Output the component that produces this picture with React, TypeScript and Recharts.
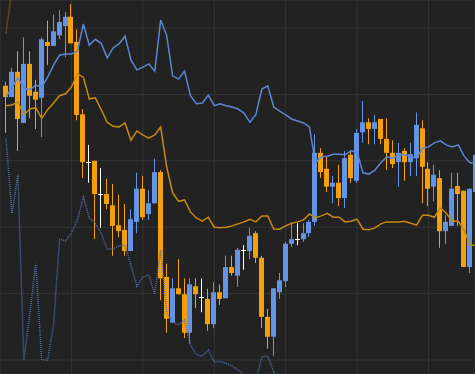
import React from "react";
import { ComposedChart, Bar, Line, XAxis, YAxis, CartesianGrid } from "recharts";

// OHLC per bar
const opens = [
  141.3, 139.6, 143.4, 135.7, 144.6, 140.4, 139.5, 147.9, 147.3, 148.9,
  150.3, 151.7, 147.9, 137.0, 129.8, 130.0, 125.0, 125.0, 123.3, 120.3,
  119.6, 116.4, 120.8, 125.8, 122.0, 123.6, 128.3, 112.5, 105.6, 110.8,
  109.9, 104.1, 111.1, 109.5, 109.2, 105.4, 110.2, 109.3, 114.0, 112.7,
  116.6, 116.4, 119.1, 115.4, 106.5, 103.5, 110.2, 111.9, 117.5, 118.2,
  118.2, 119.1, 120.8, 131.2, 128.8, 126.1, 126.7, 124.4, 130.9, 127.0,
  134.3, 135.8, 134.8, 136.3, 133.3, 131.2, 129.8, 131.5, 129.8, 130.4,
  134.9, 128.8, 126.1, 127.4, 119.4, 120.2, 126.2, 125.5, 114.0, 125.3,
];
const highs = [
  141.9, 144.0, 146.5, 148.6, 146.5, 142.2, 148.6, 151.1, 152.0, 152.7,
  152.4, 153.6, 149.8, 137.8, 132.4, 130.0, 128.9, 127.3, 126.5, 124.9,
  123.5, 122.7, 128.2, 127.7, 125.6, 130.3, 128.6, 114.5, 112.3, 115.2,
  112.3, 112.3, 112.3, 112.3, 110.7, 111.7, 111.4, 115.7, 115.7, 116.9,
  117.3, 119.9, 119.4, 115.7, 107.7, 110.8, 113.1, 117.8, 120.5, 120.6,
  120.6, 121.1, 134.0, 131.9, 130.6, 127.7, 129.4, 131.5, 131.5, 134.8,
  139.0, 136.4, 136.9, 136.3, 136.4, 133.1, 132.7, 131.9, 132.7, 137.3,
  136.1, 129.8, 129.4, 128.6, 121.8, 128.2, 128.2, 125.5, 125.8, 131.6,
];
const lows = [
  134.2, 139.6, 131.5, 135.7, 136.4, 134.8, 133.6, 144.4, 147.3, 148.3,
  145.6, 147.7, 136.1, 127.4, 126.7, 118.2, 119.9, 122.7, 115.7, 118.5,
  115.7, 116.4, 119.1, 121.1, 121.1, 123.6, 109.0, 104.1, 105.6, 109.9,
  103.3, 102.4, 107.8, 107.2, 104.4, 104.8, 108.3, 109.3, 112.7, 111.0,
  113.6, 115.2, 114.6, 104.8, 101.7, 100.6, 109.2, 111.0, 117.0, 117.3,
  117.8, 118.5, 120.2, 127.4, 125.3, 123.6, 123.2, 122.9, 126.7, 126.7,
  132.7, 132.5, 132.5, 132.5, 128.6, 128.9, 126.1, 127.0, 127.7, 127.7,
  123.6, 123.2, 123.9, 116.9, 117.5, 120.2, 120.2, 114.0, 113.1, 125.3,
];
const closes = [
  139.6, 143.4, 136.3, 144.6, 139.8, 139.2, 148.3, 147.3, 149.5, 150.9,
  151.7, 147.7, 136.9, 129.8, 129.8, 125.0, 125.0, 123.5, 120.2, 119.4,
  116.4, 121.2, 125.8, 121.5, 123.6, 128.3, 112.3, 106.2, 110.8, 109.9,
  104.1, 111.4, 109.9, 109.5, 105.4, 110.2, 109.2, 114.0, 113.1, 116.6,
  116.6, 118.7, 115.4, 106.5, 103.5, 110.8, 112.0, 117.5, 118.2, 118.2,
  119.1, 120.8, 131.2, 128.3, 126.1, 126.7, 124.4, 130.4, 127.4, 134.2,
  135.8, 134.8, 135.8, 133.3, 131.2, 129.5, 131.2, 129.8, 131.0, 135.4,
  129.1, 125.8, 127.9, 119.4, 120.8, 125.8, 125.0, 114.0, 125.8, 130.9,
];

// indicator lines
const blueLine = [
  139.6, 141.1, 142.5, 141.0, 140.7, 141.4, 141.1, 142.6, 144.4, 145.9,
  146.1, 146.1, 146.5, 150.6, 147.4, 148.3, 147.7, 145.5, 147.0, 147.6,
  148.8, 145.2, 143.7, 144.1, 144.6, 143.5, 151.2, 148.9, 142.8, 142.3,
  143.5, 139.8, 138.6, 138.7, 139.9, 138.3, 138.6, 138.3, 138.1, 137.8,
  137.2, 135.8, 137.0, 140.8, 141.3, 138.1, 137.5, 136.9, 136.3, 136.0,
  135.7, 135.1, 129.7, 130.6, 130.7, 131.0, 131.0, 130.9, 131.5, 131.3,
  128.2, 128.0, 128.6, 129.7, 130.6, 130.4, 130.9, 130.9, 130.7, 130.4,
  131.9, 132.1, 132.7, 133.0, 132.4, 132.1, 132.4, 130.7, 129.7, 129.7,
];
const orangeLine = [
  138.3, 138.4, 138.9, 136.9, 137.8, 138.0, 136.4, 137.7, 138.7, 139.8,
  140.1, 141.1, 143.1, 142.6, 139.3, 139.5, 137.7, 135.8, 135.2, 135.1,
  135.7, 133.1, 134.5, 133.9, 133.4, 133.9, 135.1, 129.1, 125.2, 123.9,
  124.1, 122.3, 121.4, 120.9, 121.5, 120.0, 119.9, 120.0, 120.2, 120.5,
  120.8, 121.2, 120.8, 121.7, 121.7, 119.7, 119.7, 120.2, 120.6, 120.8,
  121.1, 122.0, 121.4, 121.7, 122.1, 121.5, 121.5, 120.8, 120.9, 121.2,
  119.7, 119.6, 119.9, 120.5, 120.8, 120.8, 120.8, 120.9, 120.6, 120.3,
  121.8, 121.8, 121.5, 122.9, 122.1, 120.9, 120.9, 119.6, 117.3, 117.3,
];
const lowerBand = [
  133.4, 122.1, 127.9, 100.0, 106.9, 114.5, 100.0, 100.0, 105.3, 118.2,
  117.9, 119.1, 121.1, 124.5, 121.4, 120.6, 119.1, 116.7, 116.7, 117.2,
  117.3, 114.3, 111.1, 112.5, 112.8, 109.9, 116.6, 107.2, 105.7, 105.3,
  106.0, 102.3, 100.8, 100.6, 101.5, 99.7, 99.8, 99.5, 99.1, 98.5,
  97.7, 95.5, 96.8, 100.5, 100.6, 98.2, 94.7,
];
const upperBand = [149.2, 155.8];

const gridX = [11, 23, 35, 47, 59, 71];
const gridY = [100, 110, 120, 130, 140, 150];

const UP = "#6494e6";
const DOWN = "#f4a00c";
const FLAT = "#ffffff";

const data = opens.map((open, k) => ({
  k,
  open,
  high: highs[k],
  low: lows[k],
  close: closes[k],
  range: [lows[k], highs[k]],
  blue: blueLine[k],
  orange: orangeLine[k],
  lower: k < lowerBand.length ? lowerBand[k] : null,
  upper: k < upperBand.length ? upperBand[k] : null,
}));

const Candle = (props: any) => {
  const { x, y, width, height, payload } = props;
  if (x == null || y == null) return null;
  const { open, close, high, low } = payload;
  const top = Math.min(y, y + height);
  const span = Math.abs(height);
  const toY = (v: number) => top + ((high - v) / (high - low)) * span;
  const cx = Math.floor(x + width / 2);
  const color = close > open ? UP : close < open ? DOWN : FLAT;
  const bTop = toY(Math.max(open, close));
  const bBot = toY(Math.min(open, close));
  return (
    <g>
      <rect x={cx} y={top} width={1} height={span} fill={color} />
      {color === FLAT ? (
        <rect x={cx - 2} y={Math.round(bTop)} width={5} height={1} fill={color} />
      ) : (
        <rect x={cx - 2} y={bTop} width={5} height={Math.max(1, bBot - bTop)} fill={color} />
      )}
    </g>
  );
};

export default function App() {
  return (
    <div style={{ position: "absolute", left: 0, top: 0, width: 475, height: 374, background: "#222222" }}>
      <ComposedChart width={475} height={374} data={data} margin={{ top: 0, right: 0, bottom: 0, left: 0 }}>
        <CartesianGrid stroke="#343434" strokeWidth={1} />
        <XAxis dataKey="k" type="number" domain={[-1.008, 78.824]} ticks={gridX} allowDataOverflow hide />
        <YAxis type="number" domain={[97.89, 154.22]} ticks={gridY} allowDataOverflow hide />
        <Bar dataKey="range" barSize={5} shape={<Candle />} activeBar={false} isAnimationActive={false} />
        <Line dataKey="lower" stroke="#4f70ad" strokeWidth={1.5} strokeDasharray="1 1" dot={false} activeDot={false} type="linear" isAnimationActive={false} />
        <Line dataKey="upper" stroke="#9c6b1c" strokeWidth={1.5} strokeDasharray="1 1" dot={false} activeDot={false} type="linear" isAnimationActive={false} />
        <Line dataKey="orange" stroke="#c98910" strokeWidth={1.5} dot={false} activeDot={false} type="linear" isAnimationActive={false} />
        <Line dataKey="blue" stroke="#5b87d4" strokeWidth={1.5} dot={false} activeDot={false} type="linear" isAnimationActive={false} />
      </ComposedChart>
    </div>
  );
}
